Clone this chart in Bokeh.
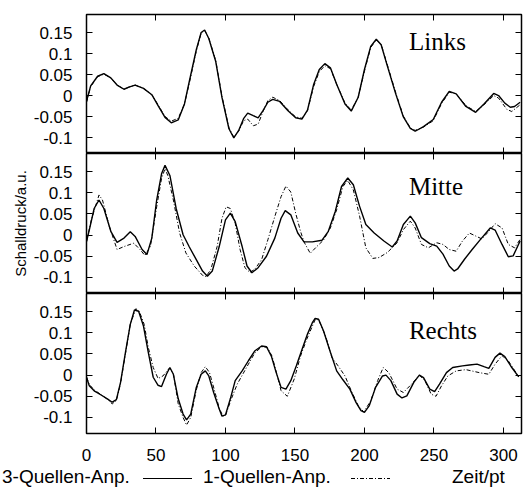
from bokeh.plotting import figure
from bokeh.models import Range1d, LinearAxis, FixedTicker, Label, Div
from bokeh.layouts import column
from bokeh.embed import file_html
from bokeh.resources import INLINE

# ---------------- data ----------------
x_ticks = [0, 50, 100, 150, 200, 250, 300]
x_tick_labels = ["0", "50", "100", "150", "200", "250", "300"]
y_ticks = [-0.1, -0.05, 0, 0.05, 0.1, 0.15]
y_tick_labels = ["-0.1", "-0.05", "0", "0.05", "0.1", "0.15"]
panel_names = ["Links", "Mitte", "Rechts"]
series_names = ["3-Quellen-Anp.", "1-Quellen-Anp."]
x_label = "Zeit/pt"
y_label = "Schalldruck/a.u."

# Links
links_t3 = [0, 3, 8, 12.5, 17.5, 22, 27, 30.5, 35, 41, 47, 51.5, 56.5, 61, 66, 70.5, 74, 79, 82.5, 85, 88, 93,
            97.5, 102.5, 106, 109.5, 113, 116, 120, 123.5, 127, 130.5, 134, 139, 145, 150.5, 155, 159, 163.5,
            167.5, 171.5, 175.5, 180, 186, 190.5, 195.5, 200, 204.5, 208.5, 212, 216.5, 222.5, 228, 233, 236.5,
            242.5, 249.5, 255.5, 261, 266, 273, 280, 286, 293, 296.5, 301, 305, 308, 312]
links_v3 = [-0.014, 0.023, 0.046, 0.052, 0.042, 0.025, 0.015, 0.020, 0.025, 0.017, 0.002, -0.024, -0.052, -0.065,
            -0.058, -0.020, 0.034, 0.109, 0.150, 0.156, 0.136, 0.081, -0.005, -0.079, -0.101, -0.083, -0.055,
            -0.042, -0.048, -0.053, -0.036, -0.016, -0.009, -0.014, -0.036, -0.053, -0.056, -0.035, 0.027, 0.062,
            0.076, 0.066, 0.027, -0.020, -0.037, -0.004, 0.062, 0.117, 0.134, 0.121, 0.070, 0.004, -0.051, -0.078,
            -0.085, -0.074, -0.057, -0.016, 0.010, 0.004, -0.026, -0.040, -0.020, 0.005, 0.000, -0.018, -0.028,
            -0.026, -0.016]
links_t1 = [0, 3, 8, 12.5, 17.5, 22, 27, 30.5, 35, 41, 47, 51.5, 56.5, 61, 66, 70.5, 74, 79, 82.5, 85, 88, 93,
            97.5, 102.5, 106, 109.5, 113, 116, 120, 123.5, 127, 130.5, 134, 139, 145, 150.5, 155, 159, 163.5,
            167.5, 171.5, 175.5, 180, 186, 190.5, 195.5, 200, 204.5, 208.5, 212, 216.5, 222.5, 228, 233, 236.5,
            242.5, 249.5, 255.5, 261, 266, 273, 280, 286, 293, 296.5, 302.5, 306, 312]
links_v1 = [-0.016, 0.021, 0.045, 0.051, 0.042, 0.025, 0.015, 0.020, 0.025, 0.017, 0.002, -0.022, -0.050, -0.061,
            -0.054, -0.020, 0.030, 0.106, 0.149, 0.155, 0.137, 0.083, -0.002, -0.077, -0.099, -0.085, -0.060,
            -0.056, -0.072, -0.068, -0.038, -0.012, -0.004, -0.012, -0.034, -0.051, -0.054, -0.036, 0.022, 0.057,
            0.071, 0.064, 0.027, -0.018, -0.035, -0.004, 0.058, 0.114, 0.133, 0.122, 0.073, 0.007, -0.049, -0.077,
            -0.083, -0.075, -0.060, -0.019, 0.008, 0.004, -0.024, -0.038, -0.022, 0.000, -0.006, -0.033, -0.038,
            -0.022]

# Mitte
mitte_t3 = [0, 2, 5.5, 9, 12.5, 17.5, 22, 27, 31.5, 35, 40, 43.5, 47, 50.5, 54, 56.5, 60, 64.5, 69.5, 74, 79,
            83.5, 87, 90.5, 95.5, 100, 103.5, 107, 112, 115.5, 119, 123.5, 129.5, 135.5, 140, 143, 147, 152, 156.5,
            162.5, 169.5, 174, 179, 183.5, 188, 192, 196.5, 201, 207, 214, 220, 223.5, 228, 233, 236.5, 241, 247,
            252, 256.5, 261, 264.5, 267, 272, 277.5, 283.5, 290.5, 294, 299, 303.5, 307, 312]
mitte_v3 = [-0.015, 0.012, 0.063, 0.083, 0.063, 0.009, -0.017, -0.007, 0.008, -0.003, -0.034, -0.046, -0.007,
            0.083, 0.145, 0.165, 0.141, 0.063, 0.001, -0.028, -0.058, -0.085, -0.097, -0.085, -0.027, 0.036, 0.052,
            0.032, -0.027, -0.073, -0.089, -0.077, -0.050, -0.007, 0.040, 0.058, 0.048, 0.005, -0.016, -0.016,
            -0.012, 0.009, 0.056, 0.115, 0.135, 0.119, 0.068, 0.025, 0.005, -0.014, -0.028, -0.014, 0.025, 0.045,
            0.029, -0.006, -0.020, -0.026, -0.045, -0.073, -0.085, -0.080, -0.057, -0.034, -0.010, 0.017, 0.012,
            -0.022, -0.051, -0.049, -0.014]
mitte_t1 = [0, 3.5, 9, 11.5, 16.5, 22, 27, 34, 38.5, 42, 46, 50.5, 54, 56.5, 58.5, 62.5, 67, 71.5, 77.5, 83.5, 86,
            89.5, 94, 97.5, 100.5, 103.5, 107, 110.5, 114, 117.5, 121, 126, 130.5, 135.5, 140, 143.5, 147, 150.5,
            154, 156.5, 161, 166, 170.5, 175.5, 180, 184.5, 188, 192, 196.5, 201, 206, 210.5, 216.5, 223.5, 228,
            233, 236.5, 241, 246, 252, 256.5, 261, 266, 270.5, 275.5, 280, 284.5, 289.5, 294, 299, 303.5, 308, 312]
mitte_v1 = [-0.015, 0.036, 0.095, 0.083, 0.020, -0.034, -0.027, -0.019, -0.034, -0.048, -0.027, 0.067, 0.134,
            0.157, 0.141, 0.083, 0.005, -0.042, -0.073, -0.095, -0.098, -0.081, -0.027, 0.040, 0.067, 0.063, 0.028,
            -0.034, -0.077, -0.088, -0.081, -0.058, -0.011, 0.044, 0.091, 0.116, 0.102, 0.052, 0.009, -0.016,
            -0.043, -0.026, -0.012, 0.017, 0.060, 0.115, 0.129, 0.107, 0.045, -0.030, -0.055, -0.053, -0.041,
            -0.018, 0.013, 0.033, 0.017, -0.022, -0.030, -0.018, -0.022, -0.034, -0.038, -0.014, 0.005, -0.002,
            -0.009, 0.009, 0.027, 0.017, -0.022, -0.030, -0.010]

# Rechts
rechts_t3 = [0, 2, 5.5, 10.5, 15, 18.5, 21.5, 24.5, 28, 31.5, 34.5, 37.5, 41, 44.5, 48, 51.5, 54, 57.5, 60, 62.5,
             66, 69.5, 72, 75, 79, 82.5, 85.5, 88, 91.5, 95.5, 97.5, 100, 103.5, 107, 112, 116.5, 121, 126, 129.5,
             133, 136.5, 140, 143.5, 147, 151, 155, 159, 162.5, 164.5, 167, 170.5, 175.5, 180, 184.5, 189.5, 194,
             197.5, 200, 203.5, 208, 213, 215.5, 219, 223.5, 227, 230.5, 235.5, 239.5, 242.5, 247, 250.5, 254, 259,
             263.5, 270.5, 275.5, 281, 286, 289.5, 294, 297.5, 301, 306, 311]
rechts_v3 = [-0.005, -0.025, -0.037, -0.047, -0.056, -0.064, -0.058, -0.017, 0.053, 0.120, 0.154, 0.151, 0.116,
             0.053, -0.005, -0.024, -0.027, 0.002, 0.018, 0.002, -0.056, -0.092, -0.106, -0.092, -0.029, 0.002,
             0.010, -0.002, -0.041, -0.080, -0.097, -0.094, -0.056, -0.013, 0.010, 0.034, 0.057, 0.069, 0.067,
             0.045, 0.006, -0.029, -0.033, -0.013, 0.022, 0.060, 0.097, 0.124, 0.134, 0.132, 0.105, 0.054, 0.010,
             -0.011, -0.033, -0.065, -0.084, -0.088, -0.072, -0.029, -0.002, 0.000, -0.013, -0.045, -0.054, -0.049,
             -0.017, 0.000, -0.006, -0.033, -0.039, -0.021, 0.006, 0.018, 0.022, 0.024, 0.026, 0.020, 0.016, 0.042,
             0.052, 0.044, 0.018, -0.004]
rechts_t1 = [0, 2, 5.5, 10.5, 15, 18.5, 21.5, 24.5, 28, 31.5, 35.5, 38, 41.5, 44.5, 48, 51.5, 55, 59.5, 62.5, 66,
             69.5, 72, 75, 79, 82.5, 85.5, 88.5, 92, 95.5, 98, 100, 104, 108.5, 116.5, 121, 126, 130, 133.5, 137,
             140, 144.5, 149.5, 154, 158.5, 164.5, 167, 172, 176.5, 181, 186, 190.5, 195.5, 199.5, 204.5, 209.5,
             213.5, 217.5, 223.5, 228, 234, 239.5, 243.5, 248, 251.5, 255.5, 260, 266, 273, 282.5, 289.5, 294, 299,
             303.5, 311]
rechts_v1 = [-0.005, -0.022, -0.035, -0.046, -0.057, -0.068, -0.060, -0.020, 0.050, 0.120, 0.157, 0.151, 0.120,
             0.065, 0.018, -0.008, -0.002, 0.016, 0.004, -0.068, -0.100, -0.118, -0.100, -0.035, 0.006, 0.020,
             0.006, -0.035, -0.078, -0.096, -0.096, -0.058, -0.021, 0.026, 0.052, 0.067, 0.066, 0.045, 0.002,
             -0.037, -0.050, -0.009, 0.045, 0.085, 0.131, 0.131, 0.093, 0.042, 0.022, -0.002, -0.037, -0.072,
             -0.087, -0.061, -0.013, 0.018, 0.006, -0.033, -0.041, -0.021, 0.000, -0.013, -0.045, -0.050, -0.025,
             -0.002, 0.010, 0.013, 0.006, 0.002, 0.026, 0.046, 0.034, -0.004]

# ---------------- styling ----------------
SANS = "Liberation Sans"
SERIF = "Liberation Serif"
DASH = "4 2 1 2"
W = 526
LEFT = 86
RIGHT = 5

x_range = Range1d(0, 313)
label_y = [0.129, 0.115, 0.105]


def style_axis(ax, ticks, labels, show):
    ax.ticker = FixedTicker(ticks=ticks)
    ax.major_tick_in = 6
    ax.major_tick_out = 0
    ax.minor_tick_in = 0
    ax.minor_tick_out = 0
    ax.minor_tick_line_color = None
    ax.axis_line_color = None
    ax.major_tick_line_color = "black"
    ax.major_tick_line_width = 1
    if show:
        ax.major_label_overrides = dict(zip(ticks, labels))
        ax.major_label_text_font = SANS
        ax.major_label_text_font_size = "17px"
        ax.major_label_text_color = "black"
    else:
        ax.major_label_text_font_size = "0px"
        ax.major_label_text_color = None
        ax.major_label_standoff = 0


def make_panel(idx, t3, v3, t1, v1, height, top, bottom, show_x, ylab=None):
    p = figure(width=W, height=height, x_range=x_range, y_range=Range1d(-0.138, 0.193),
               output_backend="svg", toolbar_location=None,
               min_border_left=LEFT, min_border_right=RIGHT, min_border_top=top, min_border_bottom=bottom,
               background_fill_color="white", border_fill_color="white")
    p.grid.visible = False
    p.outline_line_color = "black"
    p.outline_line_width = 1.5
    p.outline_line_alpha = 1.0

    style_axis(p.yaxis[0], y_ticks, y_tick_labels, True)
    p.yaxis[0].major_label_standoff = 14
    style_axis(p.xaxis[0], x_ticks, x_tick_labels, show_x)
    if show_x:
        p.xaxis[0].major_label_standoff = 15
    right = LinearAxis()
    style_axis(right, y_ticks, y_tick_labels, False)
    p.add_layout(right, "right")
    above = LinearAxis()
    style_axis(above, x_ticks, x_tick_labels, False)
    p.add_layout(above, "above")

    if ylab:
        p.yaxis[0].axis_label = ylab
        p.yaxis[0].axis_label_text_font = SANS
        p.yaxis[0].axis_label_text_font_size = "15px"
        p.yaxis[0].axis_label_text_font_style = "normal"
        p.yaxis[0].axis_label_text_color = "black"
        p.yaxis[0].axis_label_standoff = 2

    p.line(t3, v3, line_color="black", line_width=1.4)
    p.line(t1, v1, line_color="black", line_width=1.0, line_dash=DASH)

    p.add_layout(Label(x=232, y=label_y[idx], text=panel_names[idx], text_font=SERIF,
                       text_font_size="25px", text_baseline="alphabetic", text_color="black"))
    return p


p1 = make_panel(0, links_t3, links_v3, links_t1, links_v1, 153, 14, 0, False)
p2 = make_panel(1, mitte_t3, mitte_v3, mitte_t1, mitte_v1, 140, 0, 0, False, ylab=y_label)
p3 = make_panel(2, rechts_t3, rechts_v3, rechts_t1, rechts_v1, 170, 0, 30, True)

# legend row (gnuplot style: label text followed by the line sample), as HTML text + inline SVG samples
LH = 25
span = ("position:absolute;top:4px;left:{x}px;line-height:19px;white-space:nowrap;")
legend_html = (
    f"<div style=\"position:relative;width:{W}px;height:{LH}px;overflow:visible;"
    f"font-family:'{SANS}';font-size:19px;color:black;\">"
    f"<svg style=\"position:absolute;left:0;top:0\" width=\"{W}\" height=\"{LH}\">"
    f"<line x1=\"143\" y1=\"15.5\" x2=\"192\" y2=\"15.5\" stroke=\"black\" stroke-width=\"1.2\"/>"
    f"<line x1=\"351\" y1=\"15.5\" x2=\"390\" y2=\"15.5\" stroke=\"black\" stroke-width=\"1\" "
    f"stroke-dasharray=\"{DASH}\"/></svg>"
    f"<span style=\"{span.format(x=2)}\">{series_names[0]}</span>"
    f"<span style=\"{span.format(x=203)}\">{series_names[1]}</span>"
    f"<span style=\"{span.format(x=452)}\">{x_label}</span>"
    f"</div>"
)
legend = Div(text=legend_html, width=W, height=LH, styles={"margin": "0", "padding": "0"})

layout = column(p1, p2, p3, legend, spacing=0)
open("out.html", "w").write(file_html(layout, INLINE))
